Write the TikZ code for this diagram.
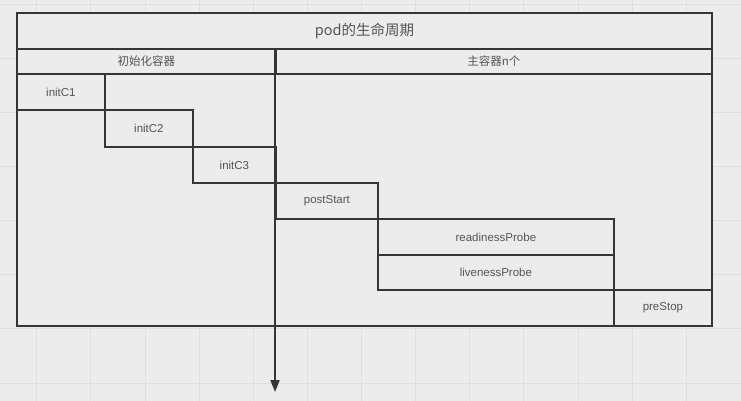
\documentclass[tikz,border=0pt]{standalone}
\usepackage{fontspec}
\setmainfont{Liberation Sans}
\newfontfamily\cjk{Noto Sans CJK SC}
\usetikzlibrary{arrows.meta}
\definecolor{bgc}{HTML}{ECECEC}
\definecolor{gridc}{HTML}{DFDFDF}
\definecolor{linec}{HTML}{353535}
\definecolor{txtc}{HTML}{555555}
\tikzset{
  box/.style={draw=linec, line width=1.8pt, fill=bgc, rectangle, inner sep=0pt, anchor=north west, text=txtc, font=\fontsize{11.5}{13}\selectfont},
}
\begin{document}
\begin{tikzpicture}[x=1pt,y=-1pt]
\useasboundingbox (0,0) rectangle (741,401);
\fill[bgc] (0,0) rectangle (741,401);
% faint background grid
\foreach \gx in {36,90,145,199,253,307,361,415,469,523,578,632,686}
  \draw[gridc, line width=0.8pt] (\gx,0) -- (\gx,401);
\foreach \gy in {4,58,112,166,220,274,328,383}
  \draw[gridc, line width=0.8pt] (0,\gy) -- (741,\gy);
% frame
\node[box, minimum width=695pt, minimum height=36pt, font=\cjk\fontsize{14.5}{16}\selectfont] (title) at (16,12) {pod的生命周期};
\node[box, minimum width=695pt, minimum height=252pt] (body) at (16,73) {};
\node[box, minimum width=259pt, minimum height=25pt, font=\cjk\fontsize{11.5}{13}\selectfont] (hdrL) at (16,48) {初始化容器};
\node[box, minimum width=436pt, minimum height=25pt, font=\cjk\fontsize{11.5}{13}\selectfont] (hdrR) at (275,48) {主容器n个};
% steps
\node[box, minimum width=88pt, minimum height=36pt] (c1) at (16,73) {initC1};
\node[box, minimum width=88pt, minimum height=37pt] (c2) at (104,109) {initC2};
\node[box, minimum width=83pt, minimum height=36pt] (c3) at (192,146) {initC3};
\node[box, minimum width=102pt, minimum height=36pt] (ps) at (275,182) {postStart};
\node[box, minimum width=236pt, minimum height=36pt] (rp) at (377,218) {readinessProbe};
\node[box, minimum width=236pt, minimum height=35pt] (lp) at (377,254) {livenessProbe};
\node[box, minimum width=98pt, minimum height=36pt] (pst) at (613,289) {preStop};
% time axis
\coordinate (axend) at (275,392);
\draw[linec, line width=1.8pt, -{Triangle[length=12pt,width=9pt]}] (hdrR.north west) -- (axend);
\end{tikzpicture}
\end{document}
